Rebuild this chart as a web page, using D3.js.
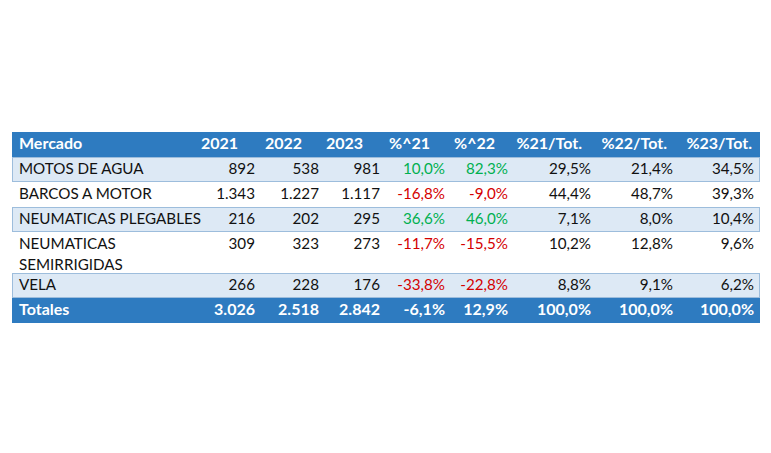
<!DOCTYPE html>
<html>
<head>
<meta charset="utf-8">
<script src="https://cdnjs.cloudflare.com/ajax/libs/d3/7.8.5/d3.min.js"></script>
<style>
  html,body{margin:0;padding:0;background:#fff;}
  svg{display:block;font-family:Lato,"Open Sans",sans-serif;}
</style>
</head>
<body>
<svg id="chart" width="771" height="453"></svg>
<script>
// table data
var headers=["Mercado","2021","2022","2023","%^21","%^22","%21/Tot.","%22/Tot.","%23/Tot."];
var mercados=["MOTOS DE AGUA","BARCOS A MOTOR","NEUMATICAS PLEGABLES","NEUMATICAS\nSEMIRRIGIDAS","VELA"];
var u2021=[892,1343,216,309,266];
var u2022=[538,1227,202,323,228];
var u2023=[981,1117,295,273,176];
var var21=[10.0,-16.8,36.6,-11.7,-33.8];
var var22=[82.3,-9.0,46.0,-15.5,-22.8];
var tot21=[29.5,44.4,7.1,10.2,8.8];
var tot22=[21.4,48.7,8.0,12.8,9.1];
var tot23=[34.5,39.3,10.4,9.6,6.2];
var totales=["Totales",3026,2518,2842,-6.1,12.9,100.0,100.0,100.0];

var es=d3.formatLocale({decimal:",",thousands:".",grouping:[3],currency:["","€"],minus:"-"});
var fNum=es.format(",d"), fPct=function(v){return es.format(".1f")(v)+"%";};
var kinds=["txt","num","num","num","var","var","pct","pct","pct"];

// layout
var tLeft=12, tRight=760, tTop=132;
var rowH=25, lineH=21, bodyFs=15.2;
var valRight=[255,319,380,445,508,591,673,754];
var headRight=[238,302,363,430,495,582,667,752];
var cBlue="#2e7bc0", cBand="#dde9f5", cLine="#9dbddc", cGreen="#00b050", cRed="#d40000";

var rows=mercados.map(function(m,i){
  return [m,u2021[i],u2022[i],u2023[i],var21[i],var22[i],tot21[i],tot22[i],tot23[i]];
});

// row heights -> y positions
var heights=[rowH].concat(rows.map(function(r){return r[0].split("\n").length>1?41:rowH;}),[rowH]);
var ys=[tTop];
heights.forEach(function(h){ys.push(ys[ys.length-1]+h);});

var svg=d3.select("#chart");
svg.append("rect").attr("width",771).attr("height",453).attr("fill","#fff");

function fmt(v,k){
  if(k=="txt")return v;
  if(k=="num")return fNum(v);
  return fPct(v);
}
function color(v,k){
  if(k=="var")return v<0?cRed:cGreen;
  return "#111";
}

// header
svg.append("rect").attr("x",tLeft).attr("y",ys[0]).attr("width",tRight-tLeft).attr("height",heights[0]).attr("fill",cBlue);
var hg=svg.append("g").attr("font-weight","bold").attr("fill","#fff").attr("font-size",16);
headers.forEach(function(h,j){
  hg.append("text").attr("x",j==0?19:headRight[j-1]).attr("y",ys[0]+17)
    .attr("text-anchor",j==0?"start":"end").text(h);
});

// body rows
rows.forEach(function(r,i){
  var y0=ys[i+1], h=heights[i+1];
  if(i%2==0){
    svg.append("rect").attr("x",tLeft+0.5).attr("y",y0+0.5).attr("width",tRight-tLeft-1).attr("height",h-1)
      .attr("fill",cBand).attr("stroke",cLine).attr("stroke-width",1);
  }
  var g=svg.append("g").attr("font-size",bodyFs);
  r[0].split("\n").forEach(function(line,k){
    g.append("text").attr("x",19).attr("y",y0+17+k*lineH).attr("fill","#111").text(line);
  });
  for(var j=1;j<r.length;j++){
    g.append("text").attr("x",valRight[j-1]).attr("y",y0+17).attr("text-anchor","end")
      .attr("fill",color(r[j],kinds[j])).text(fmt(r[j],kinds[j]));
  }
});

// totals
var yt=ys[ys.length-2];
svg.append("rect").attr("x",tLeft).attr("y",yt).attr("width",tRight-tLeft).attr("height",heights[heights.length-1]).attr("fill",cBlue);
var tg=svg.append("g").attr("font-weight","bold").attr("fill","#fff").attr("font-size",16);
totales.forEach(function(v,j){
  tg.append("text").attr("x",j==0?19:valRight[j-1]).attr("y",yt+17)
    .attr("text-anchor",j==0?"start":"end").text(fmt(v,kinds[j]));
});
</script>
</body>
</html>
